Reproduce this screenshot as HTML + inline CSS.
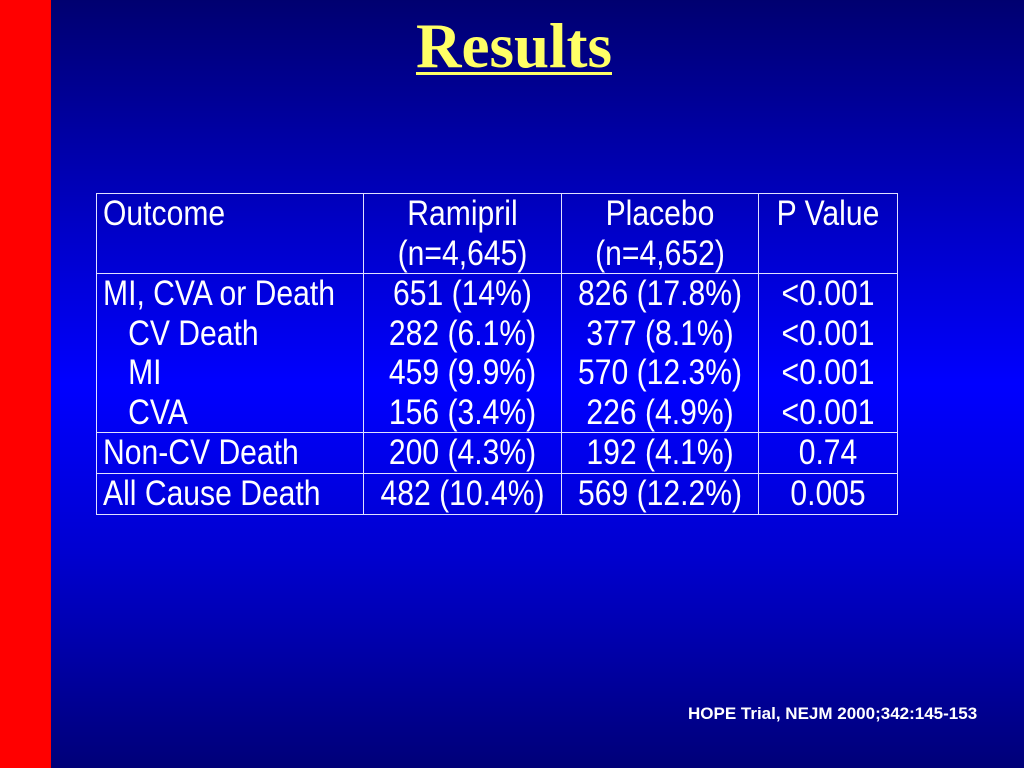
<!DOCTYPE html>
<html><head><meta charset="utf-8"><style>
html,body{margin:0;padding:0}
body{width:1024px;height:768px;position:relative;overflow:hidden;background:linear-gradient(to bottom,#000070 0%,#0000c8 30%,#0000ff 50%,#0000d0 72%,#000078 100%)}
#red{position:absolute;left:0;top:0;width:51px;height:768px;background:#ff0000}
#title{position:absolute;left:0;width:1028px;top:10px;text-align:center;font:bold 63px "Liberation Serif",serif;color:#ffff66;text-decoration:underline;text-decoration-thickness:3px;text-underline-offset:5px}
table{position:absolute;left:96px;top:193px;width:801px;table-layout:fixed;border-collapse:collapse;color:#fff;font-family:"Liberation Sans",sans-serif;font-size:35px}
td{border:1.5px solid #e0e0ff;padding:0;vertical-align:top;line-height:39.5px;text-align:center;white-space:nowrap;overflow:visible}
td>div{transform:scaleX(0.86);transform-origin:center top;margin:0 -40px}
td.l>div{text-align:left;transform-origin:left top;padding-left:7px;margin:0 -80px 0 0}
#src{position:absolute;left:688px;top:704px;font:bold 17px "Liberation Sans",sans-serif;color:#fff}
</style></head><body>
<div id="red"></div>
<div id="title">Results</div>
<table>
<colgroup><col style="width:267px"><col style="width:198px"><col style="width:197px"><col style="width:139px"></colgroup>
<tr style="height:80px"><td class="l"><div>Outcome</div></td><td><div>Ramipril<br>(n=4,645)</div></td><td><div>Placebo<br>(n=4,652)</div></td><td><div>P Value</div></td></tr>
<tr style="height:159px"><td class="l"><div>MI, CVA or Death<br>&nbsp;&nbsp;&nbsp;CV Death<br>&nbsp;&nbsp;&nbsp;MI<br>&nbsp;&nbsp;&nbsp;CVA</div></td><td><div>651 (14%)<br>282 (6.1%)<br>459 (9.9%)<br>156 (3.4%)</div></td><td><div>826 (17.8%)<br>377 (8.1%)<br>570 (12.3%)<br>226 (4.9%)</div></td><td><div>&lt;0.001<br>&lt;0.001<br>&lt;0.001<br>&lt;0.001</div></td></tr>
<tr style="height:40px"><td class="l"><div>Non-CV Death</div></td><td><div>200 (4.3%)</div></td><td><div>192 (4.1%)</div></td><td><div>0.74</div></td></tr>
<tr style="height:41px"><td class="l"><div>All Cause Death</div></td><td><div>482 (10.4%)</div></td><td><div>569 (12.2%)</div></td><td><div>0.005</div></td></tr>
</table>
<div id="src">HOPE Trial, NEJM 2000;342:145-153</div>
</body></html>
